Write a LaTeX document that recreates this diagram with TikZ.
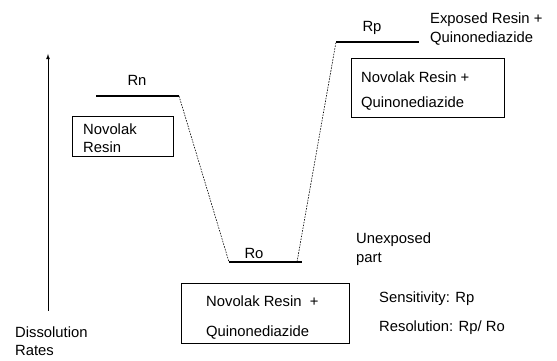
\documentclass[tikz,border=0pt]{standalone}
\usepackage{fontspec}
\setmainfont{Liberation Sans}

\begin{document}
\begin{tikzpicture}[x=1pt,y=1pt,
    level/.style={line width=2.4pt},
    jump/.style={line width=0.6pt, dash pattern=on 1.6pt off 1.2pt},
    frame/.style={line width=0.7pt},
    lbl/.style={anchor=west, inner sep=0pt, align=left,
      font=\fontsize{14.8}{18}\selectfont}]
  \useasboundingbox (0,0) rectangle (557,361);

  % axis
  \coordinate (axisbot) at (48,50);
  \coordinate (axistop) at (48,307);
  \draw[line width=0.8pt,-latex] (axisbot) -- (axistop);
  \node[lbl] (rates) at (15,20) {Dissolution\\Rates};

  % levels
  \coordinate (rnL) at (96,265);
  \coordinate (rnR) at (179,265);
  \coordinate (roL) at (229,99);
  \coordinate (roR) at (302,99);
  \coordinate (roJ) at (297,99);
  \coordinate (rpL) at (336,319);
  \coordinate (rpR) at (419,319);
  \draw[level] (rnL) -- (rnR);
  \draw[level] (roL) -- (roR);
  \draw[level] (rpL) -- (rpR);
  \node[lbl, anchor=center] (rn) at (137,281) {Rn};
  \node[lbl, anchor=center] (ro) at (254,108) {Ro};
  \node[lbl, anchor=center] (rp) at (372,333) {Rp};

  \draw[jump] (rnR) -- (roL);
  \draw[jump] (roJ) -- (rpL);

  % boxes
  \draw[frame] (72,205) rectangle (173,245);
  \node[lbl] (resin) at (83,223) {Novolak\\Resin};
  \draw[frame] (351,244) rectangle (504,303);
  \node[lbl, font=\fontsize{14.8}{25}\selectfont] (upper) at (361,270)
    {Novolak Resin +\\Quinonediazide};
  \draw[frame] (181,18) rectangle (349,78);
  \node[lbl, font=\fontsize{14.8}{30}\selectfont] (lower) at (206,43)
    {Novolak Resin~~+\\Quinonediazide};

  % notes
  \node[lbl, font=\fontsize{14.8}{19}\selectfont] (exposed) at (430,332)
    {Exposed Resin +\\Quinonediazide};
  \node[lbl, font=\fontsize{14.8}{19}\selectfont] (unexp) at (356,112)
    {Unexposed\\part};
  \node[lbl, font=\fontsize{14.8}{29}\selectfont] (crit) at (379,48)
    {Sensitivity: Rp\\Resolution: Rp/ Ro};
\end{tikzpicture}
\end{document}
